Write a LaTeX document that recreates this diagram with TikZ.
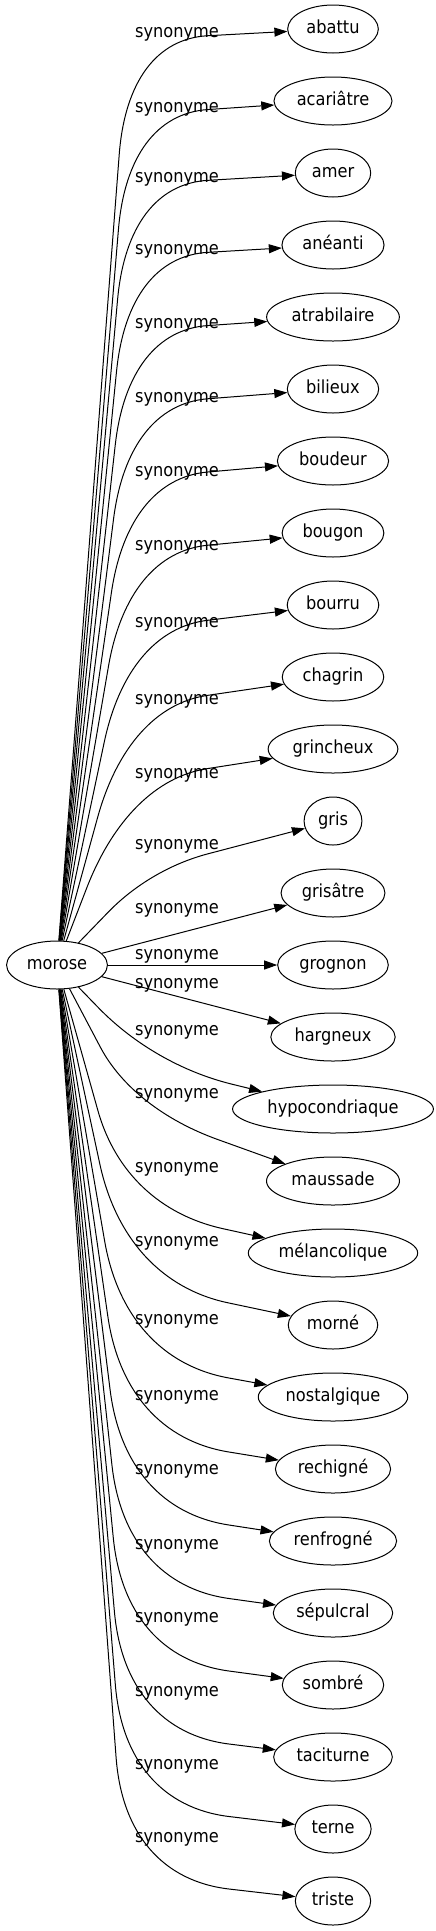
\documentclass[tikz,border=0pt]{standalone}
\usepackage{fontspec}
\setmainfont{DejaVu Sans}[FakeStretch=0.9]
\usetikzlibrary{arrows.meta,shapes.geometric,calc}

\begin{document}
\begin{tikzpicture}[x=1pt,y=-1pt,
	word/.style={draw,ellipse,line width=1pt,minimum height=48pt,inner xsep=5.5pt,inner ysep=2pt,
		text height=13.5pt,text depth=4pt,font=\fontsize{18}{20}\selectfont},
	tag/.style={inner sep=0pt,anchor=base,font=\fontsize{18}{20}\selectfont},
	link/.style={line width=1pt,-{Triangle[length=13pt,width=9pt]}}]
	\useasboundingbox (0,0) rectangle (436,1931);
	% source word
	\node[word] (morose) at (57,965) {morose};
	% synonyms, one column
	\foreach \i/\w in {0/abattu,1/acariâtre,2/amer,3/anéanti,4/atrabilaire,5/bilieux,6/boudeur,
		7/bougon,8/bourru,9/chagrin,10/grincheux,11/gris,12/grisâtre,13/grognon,14/hargneux,
		15/hypocondriaque,16/maussade,17/mélancolique,18/morné,19/nostalgique,20/rechigné,
		21/renfrogné,22/sépulcral,23/sombré,24/taciturne,25/terne,26/triste}
		\node[word] (t\i) at (333,{29+72*\i}) {\w};
	% edge labels
	\foreach \i/\ly in {0/32,1/107,2/177,3/249,4/323,5/397,6/471,7/545,8/622,9/699,10/773,
		11/844,12/908,13/954,14/983,15/1030,16/1093,17/1167,18/1241,19/1319,20/1395,
		21/1469,22/1544,23/1617,24/1691,25/1764,26/1837}
		\node[tag] (s\i) at (177,{\ly+5}) {synonyme};
	% curved edges: leg, rounded bend, leg
	\foreach \i/\ly/\kx/\ky/\ra/\rb in {0/32/128/8/115/80,1/107/128/8/115/80,2/177/128/8/115/80,
		3/249/128/8/115/80,4/323/128/8/115/80,5/397/128/8/115/80,6/471/128/8/115/80,
		7/545/128/8/115/80,8/622/128/8/115/80,9/699/128/8/115/80,10/773/128/8/115/80,
		11/844/150/25/60/60,15/1030/154/35/80/80,16/1093/133/16/70/90,17/1167/125/40/100/100,
		18/1241/125/40/120/105,19/1319/125/40/120/105,20/1395/125/40/120/105,
		21/1469/125/40/120/105,22/1544/125/40/120/105,23/1617/125/40/120/105,
		24/1691/125/40/120/105,25/1764/125/40/120/105,26/1837/125/40/120/105}{
		\coordinate (k) at (\kx,{\ly+\ky});
		\pgfmathsetmacro\ca{0.36*\ra}
		\pgfmathsetmacro\cb{0.36*\rb}
		\draw[link] (morose) -- ($(k)!\ra pt!(morose)$)
			.. controls ($(k)!\ca pt!(morose)$) and ($(k)!\cb pt!(t\i)$) .. ($(k)!\rb pt!(t\i)$)
			-- (t\i);
	}
	% straight edges
	\foreach \i in {12,13,14}
		\draw[link] (morose) -- (t\i);
\end{tikzpicture}
\end{document}
